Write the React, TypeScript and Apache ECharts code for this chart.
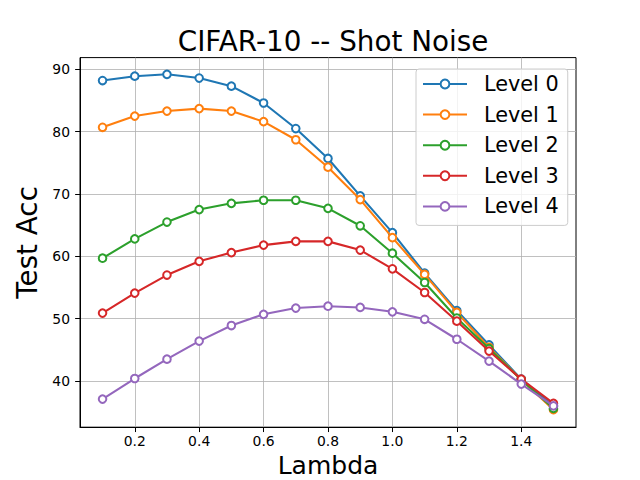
import React, { useEffect, useRef } from "react";
import * as echarts from "echarts";

const lambdas = [0.1, 0.2, 0.3, 0.4, 0.5, 0.6, 0.7, 0.8, 0.9, 1.0, 1.1, 1.2, 1.3, 1.4, 1.5];
const level0 = [88.2, 88.9, 89.2, 88.6, 87.3, 84.6, 80.5, 75.7, 69.7, 63.8, 57.3, 51.3, 45.8, 40.3, 36.0];
const level1 = [80.7, 82.5, 83.3, 83.7, 83.3, 81.6, 78.7, 74.3, 69.1, 63.0, 57.1, 51.0, 45.4, 40.2, 35.4];
const level2 = [59.7, 62.8, 65.5, 67.5, 68.5, 69.0, 69.0, 67.7, 64.9, 60.5, 55.8, 50.1, 45.2, 40.2, 35.6];
const level3 = [50.9, 54.1, 57.0, 59.2, 60.6, 61.8, 62.4, 62.4, 61.0, 58.0, 54.2, 49.6, 44.8, 40.3, 36.4];
const level4 = [37.1, 40.4, 43.5, 46.4, 48.9, 50.7, 51.7, 52.0, 51.8, 51.1, 49.9, 46.7, 43.2, 39.5, 36.0];

const seriesNames = ["Level 0", "Level 1", "Level 2", "Level 3", "Level 4"];
const seriesValues = [level0, level1, level2, level3, level4];
const colors = ["#1f77b4", "#ff7f0e", "#2ca02c", "#d62728", "#9467bd"];

const xTicks = [0.2, 0.4, 0.6, 0.8, 1.0, 1.2, 1.4];
const yTicks = [40, 50, 60, 70, 80, 90];

const FONT = "DejaVu Sans";

export default function App() {
  const ref = useRef<HTMLDivElement>(null);
  useEffect(() => {
    if (!ref.current) return;
    const chart = echarts.init(ref.current, null, { renderer: "svg" });
    chart.setOption({
      animation: false,
      backgroundColor: "#ffffff",
      textStyle: { fontFamily: FONT },
      title: {
        text: "CIFAR-10 -- Shot Noise",
        left: 328,
        textAlign: "center",
        top: 22,
        textStyle: { fontFamily: FONT, fontSize: 27.8, fontWeight: "normal", color: "#000" },
      },
      grid: {
        left: 80,
        right: 64,
        top: 57.6,
        bottom: 52.8,
        containLabel: false,
        outerBoundsMode: "none",
        show: true,
        borderColor: "#000",
        borderWidth: 1,
        backgroundColor: "transparent",
      },
      legend: {
        orient: "vertical",
        left: 416,
        top: 69,
        data: seriesNames,
        itemWidth: 44,
        itemHeight: 11,
        itemGap: 8.6,
        padding: [4, 9, 8, 6],
        backgroundColor: "rgba(255,255,255,0.8)",
        borderColor: "#cccccc",
        borderWidth: 1,
        borderRadius: 3,
        textStyle: { fontFamily: FONT, fontSize: 20.8, color: "#000", padding: [0, 0, 0, 12], lineHeight: 22 },
      },
      xAxis: {
        type: "value",
        min: 0.03,
        max: 1.57,
        name: "Lambda",
        nameLocation: "middle",
        nameGap: 22,
        nameTextStyle: { fontFamily: FONT, fontSize: 25, color: "#000" },
        axisLine: { show: true, onZero: false, lineStyle: { color: "#000", width: 1 } },
        axisTick: { show: true, inside: false, length: 4.86, customValues: xTicks, lineStyle: { color: "#000" } },
        axisLabel: {
          customValues: xTicks,
          margin: 6.5,
          fontFamily: FONT,
          fontSize: 13.9,
          color: "#000",
          formatter: (v: number) => v.toFixed(1),
        },
        splitLine: { show: true, lineStyle: { color: "#b0b0b0", width: 0.8 } },
      },
      yAxis: {
        type: "value",
        min: 32.59,
        max: 91.88,
        name: "Test Acc",
        nameLocation: "middle",
        nameGap: 38,
        nameTextStyle: { fontFamily: FONT, fontSize: 27.8, color: "#000" },
        axisLine: { show: true, onZero: false, lineStyle: { color: "#000", width: 1 } },
        axisTick: { show: true, inside: false, length: 4.86, customValues: yTicks, lineStyle: { color: "#000" } },
        axisLabel: {
          customValues: yTicks,
          margin: 10,
          fontFamily: FONT,
          fontSize: 13.9,
          color: "#000",
          formatter: (v: number) => String(Math.round(v)),
        },
        splitLine: { show: true, lineStyle: { color: "#b0b0b0", width: 0.8 } },
      },
      series: seriesNames.map((name, i) => ({
        name,
        type: "line",
        data: lambdas.map((x, j) => [x, seriesValues[i][j]]),
        symbol: "emptyCircle",
        symbolSize: 7.6,
        showSymbol: true,
        color: colors[i],
        lineStyle: { color: colors[i], width: 2.08 },
        itemStyle: { color: colors[i], borderColor: colors[i], borderWidth: 1.3 },
        emphasis: { disabled: true },
        z: 2 + i,
      })),
    });
    return () => chart.dispose();
  }, []);
  return (
    <div
      ref={ref}
      style={{ position: "fixed", left: 0, top: 0, width: 640, height: 480 }}
    />
  );
}
